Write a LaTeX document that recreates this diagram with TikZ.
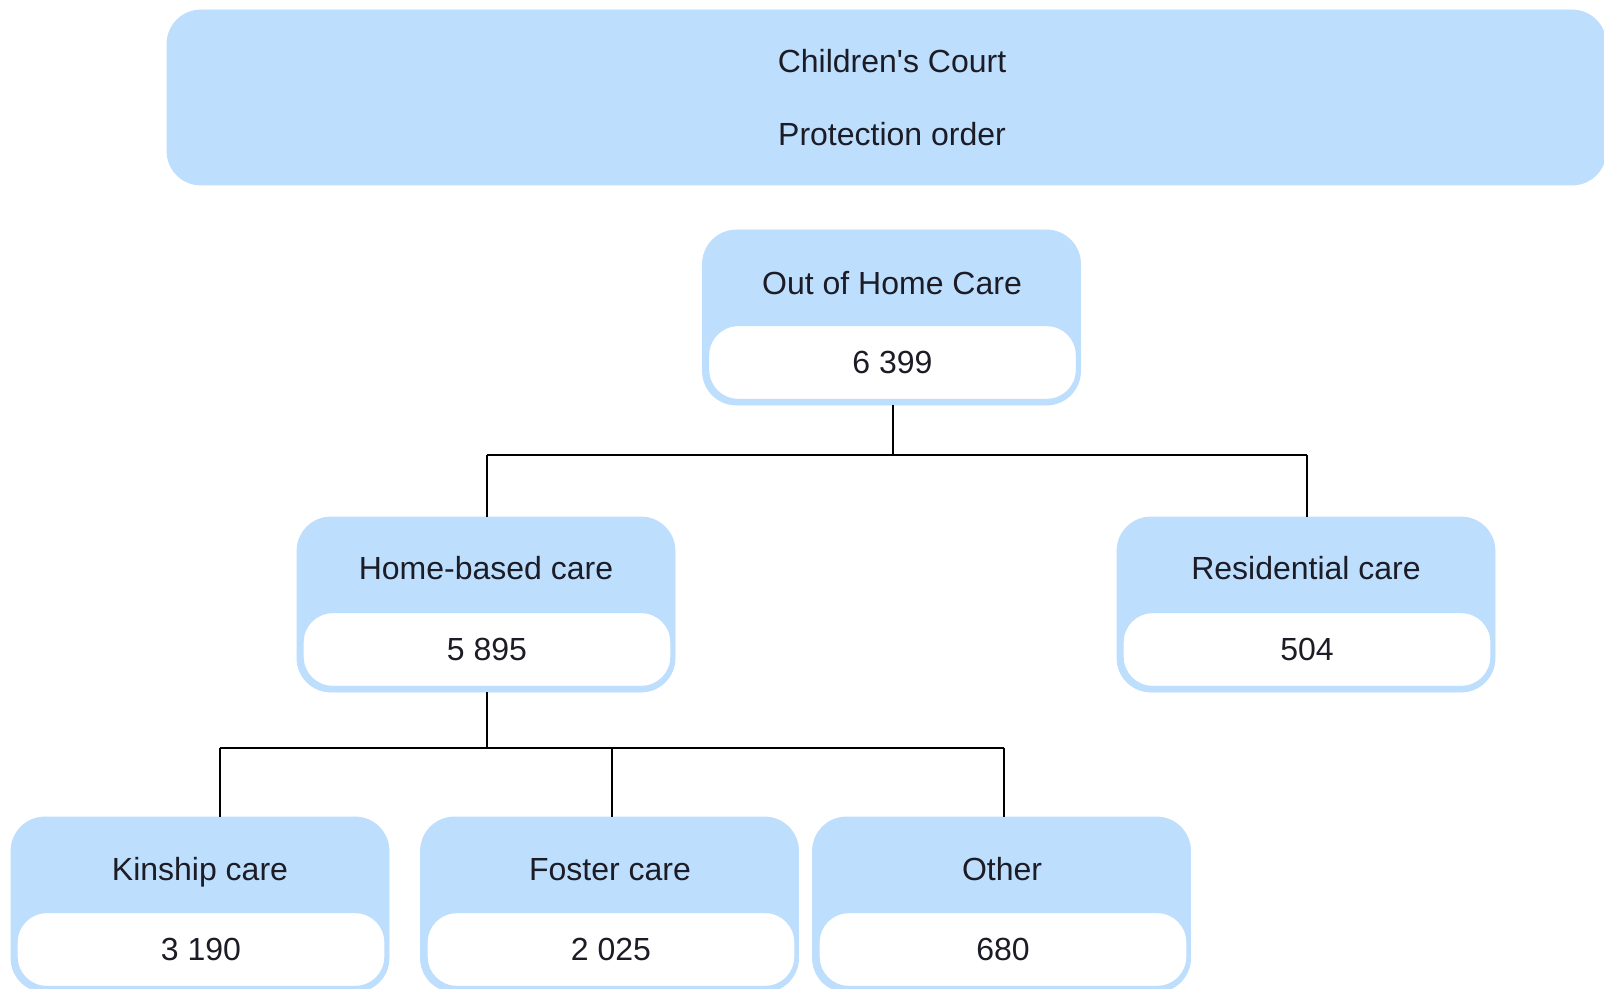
\documentclass[tikz,border=0pt]{standalone}
\usepackage{fontspec}
\setmainfont{Liberation Sans}[Ligatures=TeXOff]
\definecolor{boxblue}{RGB}{189,222,253}
\definecolor{txt}{RGB}{28,28,38}
\tikzset{
  outerbox/.style={draw=boxblue, fill=boxblue, rounded corners=17pt, minimum width=189pt, minimum height=87.5pt, inner sep=0pt},
  valbox/.style={draw=boxblue, line width=1.2pt, fill=white, rounded corners=15pt, minimum width=184.5pt, minimum height=37.5pt, inner sep=0pt, font=\fontsize{16pt}{19pt}\selectfont, text=txt},
  titletext/.style={inner sep=0pt, text height=11.5pt, text depth=3.4pt, font=\fontsize{16pt}{19pt}\selectfont, text=txt},
  conn/.style={draw=black, line width=1pt}
}
\begin{document}
\begin{tikzpicture}[x=0.5pt, y=-0.5pt]
\useasboundingbox (0,0) rectangle (1604,989);
\fill[white] (0,0) rectangle (1604,989);
% banner
\node[outerbox, minimum width=719.5pt] (court) at (886.5,97.5) {};
\node[titletext] (courtt) at (892,64.5) {Children's Court};
\node[titletext] (courtp) at (892,137.5) {Protection order};
% Out of home care
\node[outerbox] (ohc) at (891.5,317.5) {};
\node[titletext] (ohct) at (892,286.5) {Out of Home Care};
\node[valbox] (ohcv) at (892.5,362.5) {6 399};
% Home-based care
\node[outerbox] (hb) at (486,604.5) {};
\node[titletext] (hbt) at (486,571.5) {Home-based care};
\node[valbox] (hbv) at (487,649.5) {5 895};
% Residential care
\node[outerbox] (rc) at (1306,604.5) {};
\node[titletext] (rct) at (1306,571.5) {Residential care};
\node[valbox] (rcv) at (1307,649.5) {504};
% Kinship
\node[outerbox] (kin) at (200,904.5) {};
\node[titletext] (kint) at (200,872.5) {Kinship care};
\node[valbox] (kinv) at (201,949.5) {3 190};
% Foster
\node[outerbox] (fos) at (609.5,904.5) {};
\node[titletext] (fost) at (610,872.5) {Foster care};
\node[valbox] (fosv) at (611,949.5) {2 025};
% Other
\node[outerbox] (oth) at (1001.5,904.5) {};
\node[titletext] (otht) at (1002,872.5) {Other};
\node[valbox] (othv) at (1003,949.5) {680};
% connectors level 1
\coordinate (b1) at (893,455);
\coordinate (b1L) at (487,455);
\coordinate (b1R) at (1307,455);
\draw[conn] (b1 |- ohc.south) -- (b1);
\draw[conn] (b1L) -- (b1R);
\draw[conn] (b1L) -- (b1L |- hb.north);
\draw[conn] (b1R) -- (b1R |- rc.north);
% connectors level 2
\coordinate (b2) at (487,748);
\coordinate (b2L) at (220,748);
\coordinate (b2M) at (612,748);
\coordinate (b2R) at (1004,748);
\draw[conn] (b2 |- hb.south) -- (b2);
\draw[conn] (b2L) -- (b2R);
\draw[conn] (b2L) -- (b2L |- kin.north);
\draw[conn] (b2M) -- (b2M |- fos.north);
\draw[conn] (b2R) -- (b2R |- oth.north);
\end{tikzpicture}
\end{document}
